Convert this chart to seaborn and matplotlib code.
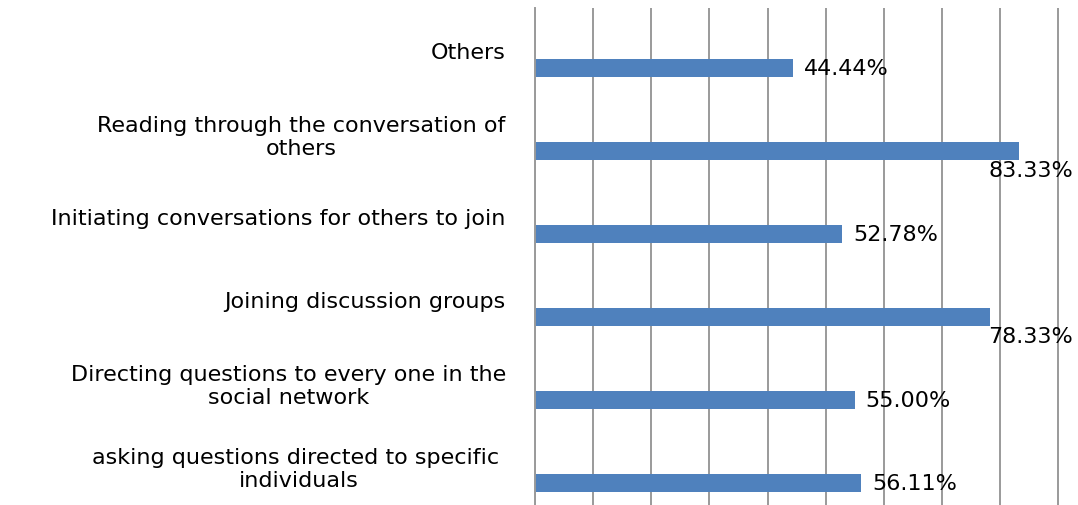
import pandas as pd
import matplotlib.pyplot as plt
import seaborn as sns
from matplotlib.ticker import MultipleLocator

# ============================
# Data
# ============================
activities = [
    "Others",
    "Reading through the conversation of\nothers",
    "Initiating conversations for others to join",
    "Joining discussion groups",
    "Directing questions to every one in the\nsocial network",
    "asking questions directed to specific \nindividuals",
]
percent = [44.44, 83.33, 52.78, 78.33, 55.00, 56.11]

df = pd.DataFrame({
    "activity": activities * 2,
    "series": ["blank"] * len(activities) + ["pct"] * len(activities),
    "value": [0] * len(activities) + percent,
})

# ============================
# Plot
# ============================
sns.set_style("white")
plt.rcParams["font.family"] = ["DejaVu Sans"]
plt.rcParams["text.color"] = "black"
plt.rcParams["ytick.labelcolor"] = "black"

FS = 16

fig = plt.figure(figsize=(10.78, 5.06), dpi=100)
ax = fig.add_axes([535 / 1078, -0.002, (1059 - 535) / 1078, 1 - 9 / 506 + 0.002])

sns.barplot(data=df, x="value", y="activity", hue="series",
            hue_order=["blank", "pct"], order=activities,
            palette={"blank": "white", "pct": "#4F81BD"}, saturation=1,
            width=0.87, gap=0.5, dodge=True, legend=False,
            linewidth=0, errorbar=None, ax=ax)

ax.set_xlim(0, 90.15)
ax.set_ylim(len(activities) - 0.5, -0.5)
ax.xaxis.set_major_locator(MultipleLocator(10))
ax.grid(axis="x", color="#9A9A9A", linewidth=1.4)
ax.set_axisbelow(True)
ax.set_xticklabels([])
ax.tick_params(axis="x", length=0)
ax.set_xlabel("")
ax.set_ylabel("")

for s in ["top", "right", "bottom"]:
    ax.spines[s].set_visible(False)
ax.spines["left"].set_color("#9A9A9A")
ax.spines["left"].set_linewidth(1.4)

# category boundaries as minor ticks
ax.set_yticks([i - 0.5 for i in range(len(activities) + 1)], minor=True)
ax.tick_params(axis="y", which="minor", length=6, color="#9A9A9A", width=1.4, direction="out")
ax.tick_params(axis="y", which="major", length=0, pad=21, labelsize=FS, labelcolor="black")
for t in ax.get_yticklabels():
    t.set_multialignment("center")

# value labels
for bar in ax.containers[1]:
    w = bar.get_width()
    yc = bar.get_y() + bar.get_height() / 2
    if w > 75:
        ax.annotate(f"{w:.2f}%", xy=(1.027, bar.get_y() + bar.get_height()),
                    xycoords=("axes fraction", "data"), ha="right", va="top",
                    fontsize=FS, color="black", annotation_clip=False)
    else:
        ax.annotate(f"{w:.2f}%", xy=(w, yc), xytext=(8, 0), textcoords="offset points",
                    ha="left", va="center", fontsize=FS, color="black")

plt.savefig("out.png", dpi=100)
